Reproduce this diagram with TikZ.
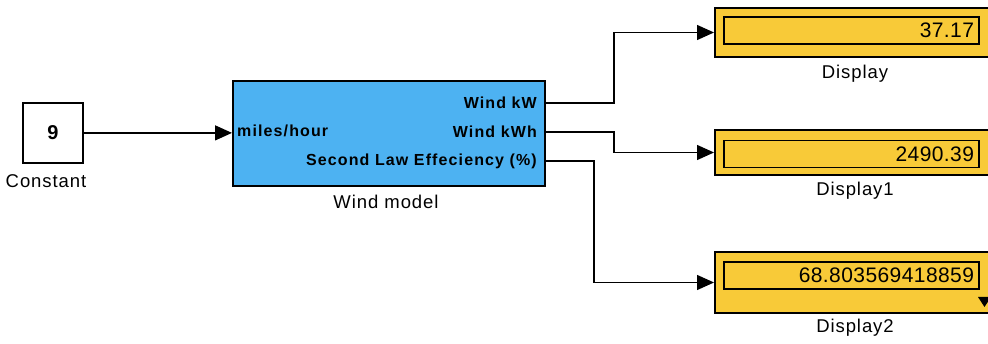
\documentclass[tikz,border=0pt]{standalone}
\usepackage{fontspec}
\setmainfont{Liberation Sans}
\newfontfamily\slfont[LetterSpace=5]{Liberation Sans}
\newfontfamily\portfont[LetterSpace=7]{Liberation Sans}
\newfontfamily\valfont[LetterSpace=2]{Liberation Sans}
\usetikzlibrary{arrows.meta, positioning}

\definecolor{modelblue}{HTML}{4DB2F2}
\definecolor{dispyellow}{HTML}{F8CA38}

\tikzset{
  block/.style={draw, line width=1.8pt, inner sep=0pt},
  caption/.style={font=\slfont\fontsize{18.5}{20}\selectfont},
  portlbl/.style={font=\portfont\bfseries\fontsize{16}{18}\selectfont, inner sep=0pt},
  valbox/.style={draw, line width=1.6pt, minimum width=255, minimum height=27,
                 inner xsep=5pt, inner ysep=0pt, text width=245, align=right,
                 font=\valfont\fontsize{21}{22}\selectfont},
  wire/.style={line width=1.4pt}
}

\begin{document}
\begin{tikzpicture}[x=1pt, y=-1pt, >={Triangle[length=17pt,width=15pt]}]
\useasboundingbox (0,0) rectangle (988,344);
\clip (0,0) rectangle (988,344);

% source block
\node (const) at (22,102) [block, anchor=north west, minimum width=60, minimum height=60,
      font=\bfseries\fontsize{20}{22}\selectfont] {9};
\node (constname) at (46,181) [caption] {Constant};

% subsystem
\node (model) at (232,80) [block, anchor=north west, fill=modelblue,
      minimum width=312, minimum height=105] {};
\node (modelname) at (386,202) [caption] {Wind model};
\node (mph) at (237,131) [portlbl, anchor=west] {miles/hour};
\node (kwlbl) at (537,103) [portlbl, anchor=east] {Wind kW};
\node (kwhlbl) at (537,132) [portlbl, anchor=east] {Wind kWh};
\node (efflbl) at (537,161) [portlbl, anchor=east] {Second Law Effeciency (\%)};
\coordinate (kw) at (544,103);
\coordinate (kwh) at (544,132);
\coordinate (eff) at (544,161);

% sinks
\node (disp) at (714,32.5) [block, anchor=west, fill=dispyellow,
      minimum width=290, minimum height=49] {};
\node (dispval) at (851.5,30.5) [valbox] {37.17};
\node (dispname) at (855,74) [caption] {Display};

\node (disp1) at (714,152.5) [block, anchor=west, fill=dispyellow,
      minimum width=290, minimum height=45] {};
\node (disp1val) at (851.5,154) [valbox] {2490.39};
\node (disp1name) at (855,191) [caption] {Display1};

\node (disp2) at (714,282.5) [block, anchor=west, fill=dispyellow,
      minimum width=290, minimum height=61] {};
\node (disp2val) at (851.5,275.5) [valbox] {68.803569418859};
\node (disp2name) at (855,328) [caption] {Display2};
\fill (978,297) -- (991,297) -- (984.5,307) -- cycle;

% signal lines
\draw [wire, ->] (const.east) -- (model.west |- const.east);
\draw [wire, ->] (kw) -- ++(70,0) |- (disp.west);
\draw [wire, ->] (kwh) -- ++(70,0) |- (disp1.west);
\draw [wire, ->] (eff) -- ++(50,0) |- (disp2.west);
\end{tikzpicture}
\end{document}
